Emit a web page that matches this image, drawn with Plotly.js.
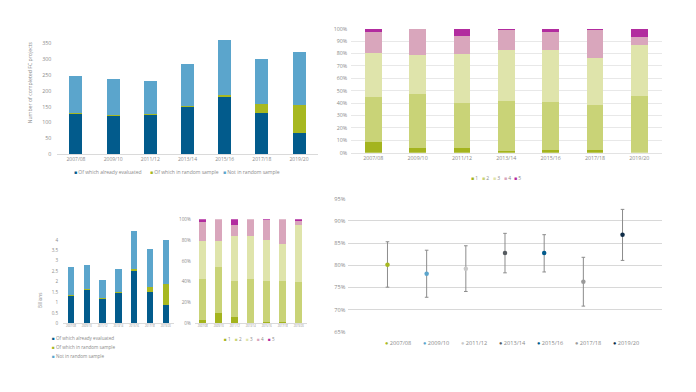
<!DOCTYPE html>
<html><head><meta charset="utf-8">
<script src="https://cdn.plot.ly/plotly-3.0.1.min.js"></script>
<style>html,body{margin:0;padding:0;background:#fff}#chart{width:696px;height:392px}</style>
</head><body><div id="chart"></div>
<script>
// ---------- DATA ----------
const years = ['2007/08','2009/10','2011/12','2013/14','2015/16','2017/18','2019/20'];

// Panel 1: number of completed FC projects
const seriesNames = ['Of which already evaluated','Of which in random sample','Not in random sample'];
const projEvaluated = [127,121,123,148,182,131,67];
const projRandom    = [3,2,3,3,4,27,88];
const projNotRandom = [118,113,104,134,174,142,167];

// Panel 2: rating distribution, number of projects (%)
const ratingNames = ['1','2','3','4','5'];
const cntR1 = [8.5,3.5,3.5,1.3,2.4,2.4,0];
const cntR2 = [36.6,44,36.5,40,38.7,35.7,46.1];
const cntR3 = [35.2,30.9,39.5,41.6,41.8,38.4,40.8];
const cntR4 = [17,21.6,14.6,16,14.7,22.2,6.7];
const cntR5 = [2.7,0,5.9,1.1,2.4,1.3,6.4];

// Panel 3: volume (billions)
const volEvaluated = [1.31,1.62,1.18,1.47,2.53,1.49,0.88];
const volRandom    = [0.05,0.03,0.02,0.02,0.06,0.27,0.99];
const volNotRandom = [1.33,1.15,0.86,1.13,1.84,1.79,2.13];

// Panel 4: rating distribution, volume (%)
const volR1 = [3.5,9.9,6.1,0,1.3,1,0];
const volR2 = [39,44.6,35,42.3,39.7,39.4,39.4];
const volR3 = [37,24.7,43,41.7,38.8,35.6,55];
const volR4 = [18,20.8,10.8,16,19.4,24,4];
const volR5 = [2.5,0,5.1,0,0.8,0,1.6];

// Panel 5: success rate with confidence interval (%)
const successRate = [80.15,78.1,79.25,82.8,82.8,76.3,86.9];
const successUpper = [85.3,83.4,84.4,87.2,86.9,81.8,92.6];
const successLower = [75.07,72.8,74.1,78.3,78.5,70.8,81.1];

// ---------- STYLE ----------
const W = 696, H = 392;
const px = v => v / W;
const py = v => 1 - v / H;
const FONT = 'Open Sans, sans-serif';
const TC = '#8a8a8a';
const sampleColors = ['#025b8c','#a7b820','#5ba5cc'];
const ratingColors = ['#a4b41e','#c9d377','#dfe4ab','#d9a6bc','#b22c9f'];
const yearColors = ['#a7b820','#5ba5cc','#c8c8c8','#565b60','#025b8c','#9a9a9a','#0f2c47'];

const traces = [];
function stack(arrs, colors, names, xa, ya, w) {
  arrs.forEach((a, i) => traces.push({
    type: 'bar', x: years, y: a, name: names[i], xaxis: xa, yaxis: ya,
    marker: {color: colors[i], line: {width: 0}}, width: w,
    showlegend: false, hoverinfo: 'skip'
  }));
}
stack([projEvaluated, projRandom, projNotRandom], sampleColors, seriesNames, 'x', 'y', 0.35);
stack([cntR1, cntR2, cntR3, cntR4, cntR5], ratingColors, ratingNames, 'x2', 'y2', 0.38);
stack([volEvaluated, volRandom, volNotRandom], sampleColors, seriesNames, 'x3', 'y3', 0.4);
stack([volR1, volR2, volR3, volR4, volR5], ratingColors, ratingNames, 'x4', 'y4', 0.42);

years.forEach((yr, i) => traces.push({
  type: 'scatter', mode: 'markers', x: [yr], y: [successRate[i]], name: yr,
  xaxis: 'x5', yaxis: 'y5', showlegend: false, hoverinfo: 'skip',
  marker: {color: yearColors[i], size: 4.5},
  error_y: {type: 'data', symmetric: false,
    array: [successUpper[i] - successRate[i]],
    arrayminus: [successRate[i] - successLower[i]],
    color: '#8c8c8c', thickness: 1, width: 1.8}
}));

function xAx(d, anchor, fs, extra) {
  return Object.assign({domain: [px(d[0]), px(d[1])], anchor: anchor, type: 'category',
    categoryorder: 'array', categoryarray: years, showline: true, linecolor: '#dadada',
    linewidth: 1, ticks: '', showgrid: false, zeroline: false, fixedrange: true,
    tickfont: {family: FONT, size: fs, color: TC}}, extra || {});
}
function yAx(d, anchor, range, dtick, fs, extra) {
  return Object.assign({domain: [py(d[0]), py(d[1])], anchor: anchor, range: range,
    dtick: dtick, ticks: '', showline: false, zeroline: false, showgrid: false,
    fixedrange: true, tickfont: {family: FONT, size: fs, color: TC}}, extra || {});
}

const annotations = [];
function ann(x, y, text, size, extra) {
  annotations.push(Object.assign({xref: 'paper', yref: 'paper', x: px(x), y: py(y),
    text: text, showarrow: false, xanchor: 'left', yanchor: 'middle',
    font: {family: FONT, size: size, color: TC}}, extra || {}));
}
const sw = (c, s) => '<span style="color:' + c + '">' + s + '</span>';

// axis titles
ann(29.5, 82, 'Number of completed FC projects', 5.2, {textangle: -90, xanchor: 'center'});
ann(40, 301, 'Billions', 4.6, {textangle: -90, xanchor: 'center'});

// legends
const leg1X = [71.5, 147.5, 221];
seriesNames.forEach((n, i) => ann(leg1X[i], 171.7, sw(sampleColors[i], '■') + ' ' + n, 5));
ratingNames.forEach((n, i) => ann(469.5 + i * 10.7, 177.7, sw(ratingColors[i], '■') + ' ' + n, 5));
seriesNames.forEach((n, i) => ann(50, 337.7 + i * 9, sw(sampleColors[i], '■') + ' ' + n, 4.6));
ratingNames.forEach((n, i) => ann(221.5 + i * 11.2, 339, sw(ratingColors[i], '■') + ' ' + n, 4.6));
years.forEach((n, i) => ann(382.8 + i * 38, 343.3, sw(yearColors[i], '●') + ' ' + n, 5.6));

const layout = {
  width: W, height: H, margin: {l: 0, r: 0, t: 0, b: 0},
  paper_bgcolor: '#fff', plot_bgcolor: '#fff', barmode: 'stack', showlegend: false,
  font: {family: FONT, color: TC},
  xaxis: xAx([57.4, 317.6], 'y', 5),
  yaxis: yAx([154.3, 35.4], 'x', [0, 375], 50, 5.3, {ticklabelstandoff: 5}),
  xaxis2: xAx([351.1, 661.5], 'y2', 5.3, {linecolor: '#e3e3e3'}),
  yaxis2: yAx([152.7, 28.7], 'x2', [0, 100], 10, 5.3,
    {ticksuffix: '%', showgrid: true, gridcolor: '#e8e8e8', gridwidth: 1, ticklabelstandoff: 3}),
  xaxis3: xAx([63.1, 173.6], 'y3', 2.6),
  yaxis3: yAx([323.3, 230.6], 'x3', [0, 4.45], 0.5, 4.6, {ticklabelstandoff: 4}),
  xaxis4: xAx([194.7, 306.7], 'y4', 2.6),
  yaxis4: yAx([323.3, 219.3], 'x4', [0, 100], 20, 4.6, {ticksuffix: '%', ticklabelstandoff: 3}),
  xaxis5: xAx([348.3, 661.7], 'y5', 5, {range: [-1, 7], showline: false, showticklabels: false}),
  yaxis5: yAx([332.3, 198.3], 'x5', [64.9, 95.1], 5, 5.6,
    {tick0: 65, ticksuffix: '%', showgrid: true, gridcolor: '#d8d8d8', gridwidth: 1, ticklabelstandoff: 2}),
  annotations: annotations
};

Plotly.newPlot('chart', traces, layout, {staticPlot: true, displayModeBar: false});
</script>
</body></html>
